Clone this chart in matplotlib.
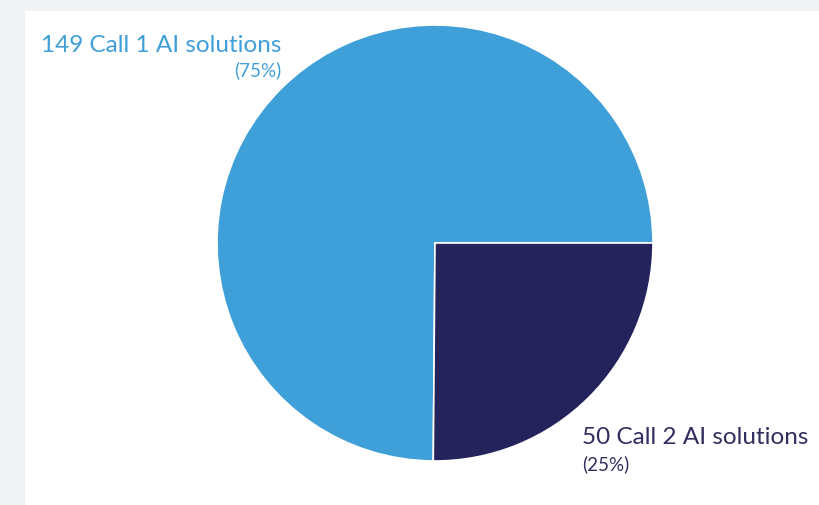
import matplotlib.pyplot as plt
from matplotlib.patches import Rectangle

categories = ['Call 1 AI solutions', 'Call 2 AI solutions']
counts = [149, 50]
shares = ['75%', '25%']
colors = ['#3f9fd9', '#25235b']
text_colors = ['#3f9fd9', '#2f2e5e']

W, H = 819, 505
fig = plt.figure(figsize=(W / 100, H / 100), dpi=100)
fig.patch.set_facecolor('#f1f2f4')
ax = fig.add_axes([0, 0, 1, 1])

# white panel
ax.add_patch(Rectangle((25, 0), W - 25, H - 11, facecolor='white', edgecolor='none', zorder=0))

ax.pie(counts, colors=colors, startangle=0, counterclock=True,
       center=(435, H - 243), radius=218, frame=True,
       wedgeprops=dict(edgecolor='white', linewidth=1.2))
ax.set_xlim(0, W)
ax.set_ylim(0, H)
ax.set_aspect('equal')
ax.axis('off')

plt.rcParams['font.family'] = ['Lato', 'DejaVu Sans']

ax.text(281, H - 45, f'{counts[0]} {categories[0]}', ha='right', va='center',
        fontsize=17.5, color=text_colors[0])
ax.text(281, H - 70, f'({shares[0]})', ha='right', va='center',
        fontsize=13.5, color=text_colors[0])

ax.text(582, H - 437, f'{counts[1]} {categories[1]}', ha='left', va='center',
        fontsize=17.5, color=text_colors[1])
ax.text(582, H - 464, f'({shares[1]})', ha='left', va='center',
        fontsize=13.5, color=text_colors[1])

fig.savefig('out.png', dpi=100, facecolor=fig.get_facecolor())
